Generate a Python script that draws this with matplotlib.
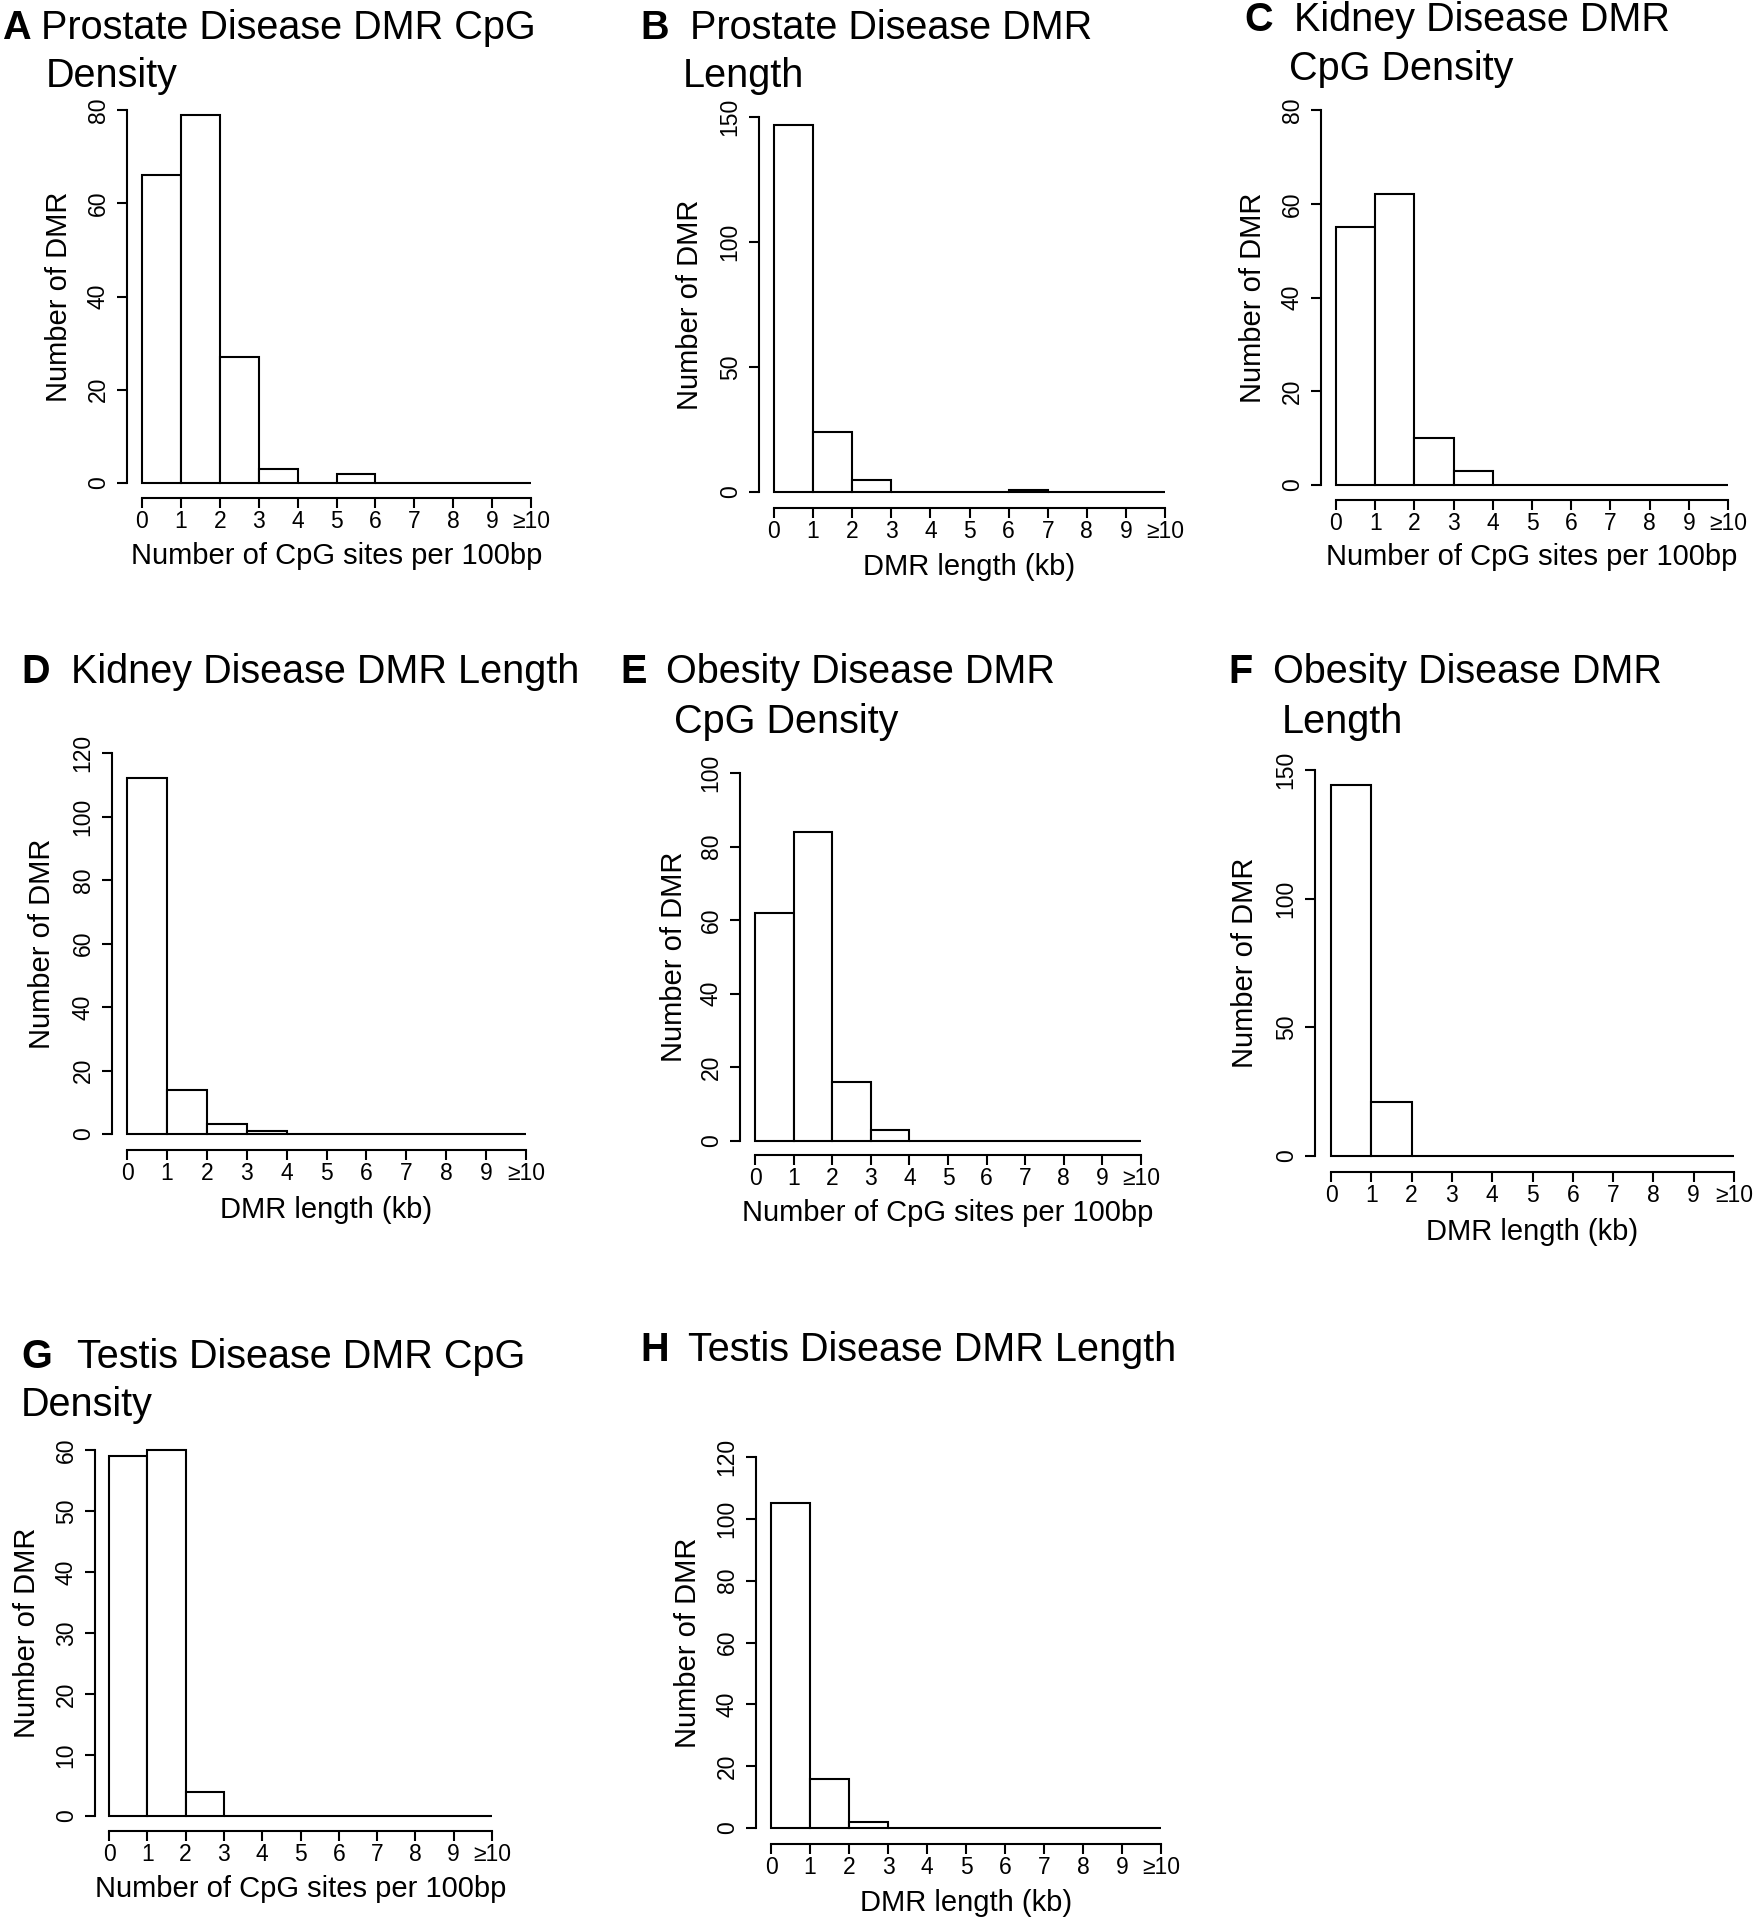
import matplotlib
matplotlib.use("Agg")
import matplotlib.pyplot as plt

plt.rcParams['font.family'] = ['Liberation Sans', 'DejaVu Sans']

# Contagens por intervalo (bins de 1 unidade, 0..10, o ultimo e ">=10")
bin_edges = list(range(11))
tick_labels = ['0', '1', '2', '3', '4', '5', '6', '7', '8', '9', '\u226510']

prostate_cpg = [66, 79, 27, 3, 0, 2, 0, 0, 0, 0]
prostate_len = [147, 24, 5, 0, 0, 0, 1, 0, 0, 0]
kidney_cpg = [55, 62, 10, 3, 0, 0, 0, 0, 0, 0]
kidney_len = [112, 14, 3, 1, 0, 0, 0, 0, 0, 0]
obesity_cpg = [62, 84, 16, 3, 0, 0, 0, 0, 0, 0]
obesity_len = [144, 21, 0, 0, 0, 0, 0, 0, 0, 0]
testis_cpg = [59, 60, 4, 0, 0, 0, 0, 0, 0, 0]
testis_len = [105, 16, 2, 0, 0, 0, 0, 0, 0, 0]

y_max = [80, 150, 80, 120, 100, 150, 60, 120]
y_step = [20, 50, 20, 20, 20, 50, 10, 20]

letters = ['A', 'B', 'C', 'D', 'E', 'F', 'G', 'H']
titles = [
    ['Prostate Disease DMR CpG', 'Density'],
    ['Prostate Disease DMR', 'Length'],
    ['Kidney Disease DMR', 'CpG Density'],
    ['Kidney Disease DMR Length'],
    ['Obesity Disease DMR', 'CpG Density'],
    ['Obesity Disease DMR', 'Length'],
    ['Testis Disease DMR CpG', 'Density'],
    ['Testis Disease DMR Length'],
]
xlab_cpg = 'Number of CpG sites per 100bp'
xlab_len = 'DMR length (kb)'
x_labels = [xlab_cpg, xlab_len, xlab_cpg, xlab_len, xlab_cpg, xlab_len, xlab_cpg, xlab_len]
counts = [prostate_cpg, prostate_len, kidney_cpg, kidney_len,
          obesity_cpg, obesity_len, testis_cpg, testis_len]

# Posicoes em pixels (figura 1757x1920)
# x0, x10, y0, ytop, eixo y (x), eixo x (y), offset do xlabel, offset do ylabel
layout = [
    (142, 531, 483, 110, 127, 498, 58, 68),
    (774, 1165, 492, 117, 759, 508, 59, 69),
    (1336, 1728, 485, 110, 1321, 500, 57, 68),
    (127, 526, 1134, 753, 112, 1150, 60, 70),
    (755, 1141, 1141, 773, 740, 1155, 58, 66),
    (1331, 1734, 1156, 770, 1315, 1172, 60, 70),
    (109, 492, 1816, 1450, 95, 1831, 58, 68),
    (771, 1161, 1828, 1457, 756, 1844, 59, 68),
]
# letra x, linha1 x, linha2 x, baseline1, baseline2
title_pos = [
    (2, 41, 46, 39, 87),
    (640, 690, 683, 39, 87),
    (1244, 1294, 1289, 31, 80),
    (21, 71, None, 683, None),
    (620, 666, 674, 683, 733),
    (1228, 1273, 1282, 683, 733),
    (21, 77, 21, 1368, 1416),
    (640, 688, None, 1361, None),
]

W, H = 1757, 1920
fig = plt.figure(figsize=(W / 100, H / 100), dpi=100)
px = 0.72  # pixel -> pontos

for i in range(8):
    x0, x10, y0, ytop, yax, xax, xl_off, yl_off = layout[i]
    ax = fig.add_axes([x0 / W, 1 - y0 / H, (x10 - x0) / W, (y0 - ytop) / H])
    ax.bar(bin_edges[:-1], counts[i], width=1, align='edge', color='white',
           edgecolor='black', linewidth=1.5, clip_on=False)
    ax.set_xlim(0, 10)
    ax.set_ylim(0, y_max[i])

    # estilo R: eixos separados
    for s in ['top', 'right']:
        ax.spines[s].set_visible(False)
    ax.spines['left'].set_position(('outward', (x0 - yax) * px))
    ax.spines['bottom'].set_position(('outward', (xax - y0) * px))
    ax.spines['left'].set_bounds(0, y_max[i])
    ax.spines['bottom'].set_bounds(0, 10)
    ax.spines['left'].set_linewidth(1.5)
    ax.spines['bottom'].set_linewidth(1.5)

    ax.set_xticks(bin_edges)
    ax.set_xticklabels(tick_labels)
    ax.set_yticks(list(range(0, y_max[i] + 1, y_step[i])))
    ax.tick_params(axis='both', length=7.5, width=1.5, labelsize=16.5)
    ax.tick_params(axis='x', pad=1)
    ax.tick_params(axis='y', pad=5, labelrotation=90)
    for lab in ax.get_yticklabels():
        lab.set_va('center')

    # rotulos dos eixos
    fig.text((yax - yl_off) / W, 1 - ((y0 + ytop) / 2) / H, 'Number of DMR',
             rotation=90, ha='center', va='center', fontsize=21)
    fig.text(((x0 + x10) / 2) / W, 1 - (xax + xl_off) / H, x_labels[i],
             ha='center', va='center', fontsize=21)

    # titulo com a letra do painel
    lx, t1x, t2x, b1, b2 = title_pos[i]
    fig.text(lx / W, 1 - b1 / H, letters[i], fontsize=28.5, fontweight='bold',
             ha='left', va='baseline')
    fig.text(t1x / W, 1 - b1 / H, titles[i][0], fontsize=28.5,
             ha='left', va='baseline')
    if len(titles[i]) > 1:
        fig.text(t2x / W, 1 - b2 / H, titles[i][1], fontsize=28.5,
                 ha='left', va='baseline')

fig.savefig('out.png', dpi=100, facecolor='white')
